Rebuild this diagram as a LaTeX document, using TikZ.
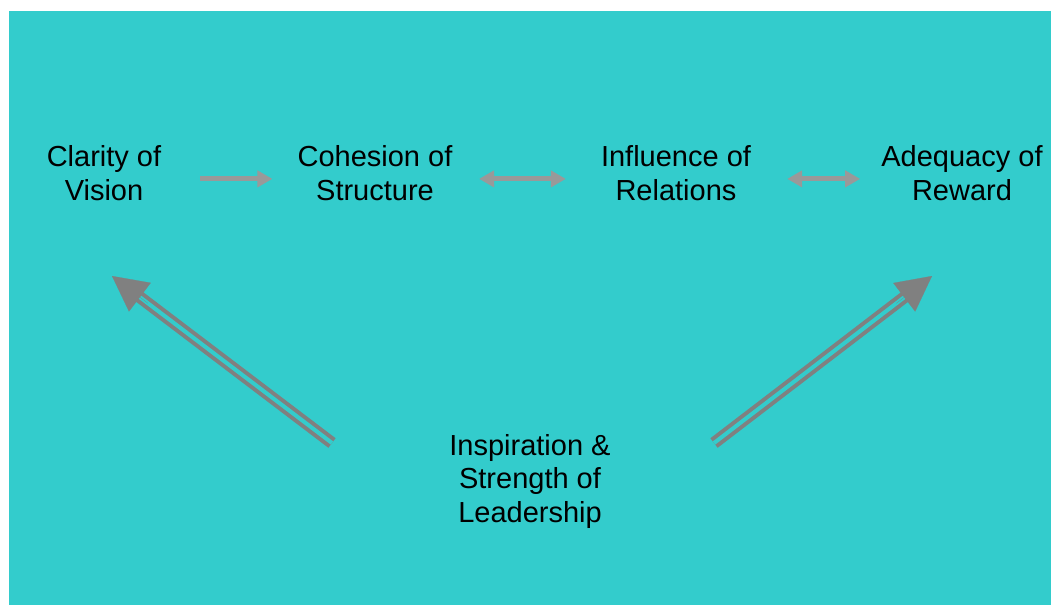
\documentclass[tikz,border=0pt]{standalone}
\usepackage{fontspec}
\setmainfont{Liberation Sans}
\usetikzlibrary{arrows.meta,calc}
\definecolor{panel}{RGB}{51,204,204}
\definecolor{linkgray}{RGB}{153,153,153}
\definecolor{leadgray}{RGB}{128,128,128}
\begin{document}
\begin{tikzpicture}[x=1pt,y=-1pt,
  concept/.style={align=center,inner sep=0pt,anchor=base,
    font=\fontsize{29}{33.5}\selectfont},
  link/.style={draw=linkgray,line width=5pt,-{Triangle[length=15pt,width=16pt]}},
  twolink/.style={draw=linkgray,line width=5pt,{Triangle[length=15pt,width=16pt]}-{Triangle[length=15pt,width=16pt]}},
  leadshaft/.style={draw=leadgray,line width=4pt,double=panel,double distance=4pt},
  leadhead/.style={draw=leadgray,line width=0.2pt,-{Triangle[length=35pt,width=36pt]}}
]
\useasboundingbox (0,0) rectangle (1051,605);
\fill[white] (0,0) rectangle (1051,605);
\fill[panel] (9,11) rectangle (1051,605);

% the four facets along the top (anchored on the last baseline)
\node[concept] (vision)    at (104,200) {Clarity of\\Vision};
\node[concept] (structure) at (375,200) {Cohesion of\\Structure};
\node[concept] (relations) at (676,200) {Influence of\\Relations};
\node[concept] (reward)    at (962,200) {Adequacy of\\Reward};

% leadership underneath
\node[concept] (leader) at (530,522) {Inspiration \&\\Strength of\\Leadership};

% horizontal links between the facets
\draw[link]    ([shift={(39,6)}]vision.east)    -- ([shift={(-25,6)}]structure.west);
\draw[twolink] ([shift={(26.5,6)}]structure.east) -- ([shift={(-35,6)}]relations.west);
\draw[twolink] ([shift={(36,6)}]relations.east)  -- ([shift={(-21,6)}]reward.west);

% leadership arrows (double shaft, solid head)
\coordinate (lt) at (332,443);
\coordinate (lh) at (112,276);
\coordinate (rt) at (714,443);
\coordinate (rh) at (932,276);
\draw[leadshaft,shorten >=30pt] (lt) -- (lh);
\draw[leadshaft,shorten >=30pt] (rt) -- (rh);
\draw[leadhead] ($(lh)!45pt!(lt)$) -- (lh);
\draw[leadhead] ($(rh)!45pt!(rt)$) -- (rh);
\end{tikzpicture}
\end{document}
